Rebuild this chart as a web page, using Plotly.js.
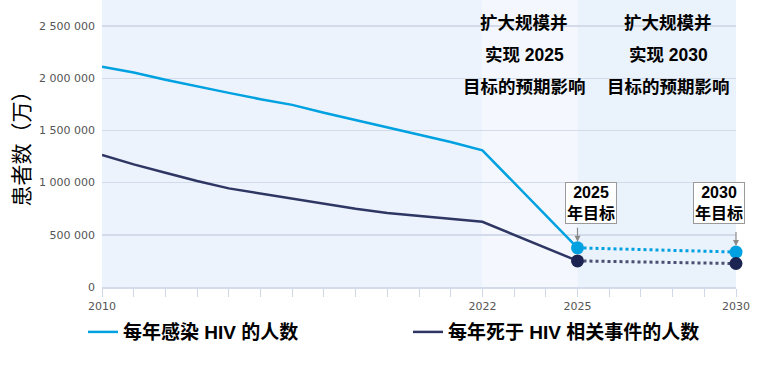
<!DOCTYPE html>
<html>
<head>
<meta charset="utf-8">
<script src="https://cdn.plot.ly/plotly-3.0.1.min.js"></script>
<style>html,body{margin:0;padding:0;background:#fff;}#chart{width:772px;height:370px;}</style>
</head>
<body>
<div id="chart"></div>
<script>
// ---- data ----
const years = [2010, 2011, 2012, 2013, 2014, 2015, 2016, 2017, 2018, 2019, 2020, 2021, 2022];
const newInfections = [2110000, 2055000, 1985000, 1920000, 1860000, 1800000, 1745000, 1670000, 1600000, 1530000, 1465000, 1390000, 1310000];
const aidsDeaths = [1265000, 1175000, 1095000, 1015000, 945000, 895000, 845000, 795000, 750000, 710000, 680000, 650000, 625000];
const targetYears = [2025, 2030];
const infectionTargets = [375000, 335000];
const deathTargets = [250000, 225000];
const seriesNames = ['每年感染 HIV 的人数', '每年死于 HIV 相关事件的人数'];
const tickYears = [2010,2011,2012,2013,2014,2015,2016,2017,2018,2019,2020,2021,2022,2023,2024,2025,2026,2027,2028,2029,2030];
const labeledYears = [2010, 2022, 2025, 2030];
const yTickVals = [0, 500000, 1000000, 1500000, 2000000, 2500000];
const regionBounds = [2010, 2022, 2025, 2030];
const scenarioLines = [['扩大规模并', '实现 2025', '目标的预期影响'], ['扩大规模并', '实现 2030', '目标的预期影响']];
const scenarioCenters = [2023.32, 2027.86];
const targetLabels = ['2025<br>年目标', '2030<br>年目标'];
const yTitle = '患者数（万）';

// ---- style ----
const cyan = '#00a1e0';
const navy = '#2e3663';
const navyMarker = '#1c2552';
const cjk = '"Liberation Sans", "Noto Sans CJK SC", sans-serif';
const cjkPlain = '"Noto Sans CJK SC", "Noto Sans", sans-serif';
const regionColors = ['#ecf3fc', '#f4f8fe', '#eaf2fc'];

const histX = years.concat([targetYears[0]]);
const traces = [
  {x: histX, y: newInfections.concat([infectionTargets[0]]), type: 'scatter', mode: 'lines',
   name: seriesNames[0], line: {color: cyan, width: 2.5}, hoverinfo: 'skip'},
  {x: histX, y: aidsDeaths.concat([deathTargets[0]]), type: 'scatter', mode: 'lines',
   name: seriesNames[1], line: {color: navy, width: 2.5}, hoverinfo: 'skip'},
  {x: targetYears, y: infectionTargets, type: 'scatter', mode: 'lines', showlegend: false,
   line: {color: cyan, width: 3, dash: 'dot'}},
  {x: targetYears, y: deathTargets, type: 'scatter', mode: 'lines', showlegend: false,
   line: {color: '#4a5070', width: 3, dash: 'dot'}},
  {x: targetYears, y: infectionTargets, type: 'scatter', mode: 'markers', showlegend: false,
   marker: {color: cyan, size: 13}, cliponaxis: false},
  {x: targetYears, y: deathTargets, type: 'scatter', mode: 'markers', showlegend: false,
   marker: {color: navyMarker, size: 13}, cliponaxis: false}
];

const shapes = [];
for (let i = 0; i < regionBounds.length - 1; i++) {
  shapes.push({type: 'rect', xref: 'x', yref: 'paper', x0: regionBounds[i], x1: regionBounds[i+1], y0: 0, y1: 1,
    fillcolor: regionColors[i], line: {width: 0}, layer: 'below'});
}

const annotations = [];
const lineY = [0.92, 0.808, 0.697];
scenarioLines.forEach((lines, c) => {
  lines.forEach((t, r) => {
    annotations.push({xref: 'x', yref: 'paper', x: scenarioCenters[c], y: lineY[r], text: '<b>' + t + '</b>',
      showarrow: false, font: {family: cjk, size: 17.5, color: '#000'}, xanchor: 'center', yanchor: 'middle'});
  });
});
const boxOffsets = [[13, -45], [-17, -49]];
targetYears.forEach((yr, i) => {
  const yv = infectionTargets[i];
  annotations.push({xref: 'x', yref: 'y', x: yr, y: yv, text: '<b>' + targetLabels[i] + '</b>',
    showarrow: true, arrowcolor: 'rgba(0,0,0,0)', ax: boxOffsets[i][0], ay: boxOffsets[i][1],
    font: {family: cjk, size: 16, color: '#000'}, bgcolor: '#fff', bordercolor: '#9a9a9a', borderwidth: 1, borderpad: 1});
  annotations.push({xref: 'x', yref: 'y', x: yr, y: yv, text: ' ', showarrow: true, arrowhead: 2, arrowsize: 1,
    arrowwidth: 1.2, arrowcolor: '#8a8a8a', ax: 0, ay: -22, standoff: 6, font: {size: 1}});
});

const layout = {
  width: 772, height: 370,
  margin: {l: 102, r: 36, t: 0, b: 83},
  paper_bgcolor: '#fff', plot_bgcolor: '#fff',
  separators: '. ',
  showlegend: true,
  legend: {orientation: 'h', x: -0.03, xanchor: 'left', y: -0.157, yanchor: 'middle',
    font: {family: cjk, size: 19, color: '#000', weight: 'bold'}, entrywidth: 280, entrywidthmode: 'pixels',
    bgcolor: 'rgba(0,0,0,0)', traceorder: 'normal'},
  xaxis: {range: [2010, 2030], tickvals: tickYears,
    ticktext: tickYears.map(y => labeledYears.includes(y) ? String(y) : ''),
    ticks: 'outside', ticklen: 8, tickcolor: '#cfd7e6', tickwidth: 1,
    showgrid: false, zeroline: false, showline: true, linecolor: '#d3dbea', linewidth: 1.5,
    tickfont: {family: 'DejaVu Sans', size: 11, color: '#555'}, fixedrange: true},
  yaxis: {range: [0, 2750000], tickvals: yTickVals, tickformat: ',d',
    showgrid: true, gridcolor: '#d3dbea', gridwidth: 1.5, zeroline: false, showline: false,
    ticks: '', ticklabelstandoff: 6,
    tickfont: {family: 'DejaVu Sans', size: 11, color: '#555'},
    title: {text: yTitle, font: {family: cjkPlain, size: 21, color: '#000'}, standoff: 3}, fixedrange: true},
  shapes: shapes,
  annotations: annotations
};

Plotly.newPlot('chart', traces, layout, {displayModeBar: false, staticPlot: true});
</script>
</body>
</html>
